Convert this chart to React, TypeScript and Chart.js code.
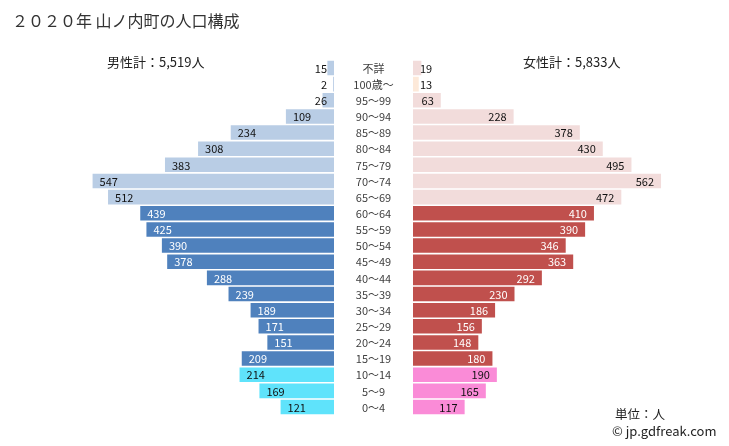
import React, { useEffect, useRef } from "react";
import { Chart, registerables } from "chart.js";

Chart.register(...registerables);

const ageLabels = [
  "不詳", "100歳～", "95～99", "90～94", "85～89", "80～84", "75～79", "70～74", "65～69",
  "60～64", "55～59", "50～54", "45～49", "40～44", "35～39", "30～34", "25～29", "20～24", "15～19",
  "10～14", "5～9", "0～4",
];
const maleValues = [15, 2, 26, 109, 234, 308, 383, 547, 512, 439, 425, 390, 378, 288, 239, 189, 171, 151, 209, 214, 169, 121];
const femaleValues = [19, 13, 63, 228, 378, 430, 495, 562, 472, 410, 390, 346, 363, 292, 230, 186, 156, 148, 180, 190, 165, 117];
const titleText = "２０２０年 山ノ内町の人口構成";
const maleTotalText = "男性計：5,519人";
const femaleTotalText = "女性計：5,833人";
const axisMax = 600;

const FONT = "'Noto Sans CJK JP', 'Noto Sans', sans-serif";

function groupOf(i: number) {
  if (i <= 8) return "old";
  if (i <= 18) return "work";
  return "child";
}
function maleColor(i: number) {
  const g = groupOf(i);
  return g === "old" ? "#B9CDE5" : g === "work" ? "#4F81BD" : "#5FE3FB";
}
function femaleColor(i: number) {
  if (i === 1) return "#FDE9D9";
  const g = groupOf(i);
  return g === "old" ? "#F2DCDB" : g === "work" ? "#C0504D" : "#FA8BD7";
}
function textColor(i: number) {
  return groupOf(i) === "work" ? "#FFFFFF" : "#111111";
}

const maleLabelPlugin = {
  id: "maleLabels",
  afterDatasetsDraw(chart: any) {
    const ctx = chart.ctx;
    const meta = chart.getDatasetMeta(0);
    ctx.save();
    ctx.font = `11px ${FONT}`;
    ctx.textBaseline = "middle";
    ctx.textAlign = "left";
    meta.data.forEach((bar: any, i: number) => {
      const txt = String(maleValues[i]);
      const w = ctx.measureText(txt).width;
      const left = Math.min(bar.x + 7, bar.base - 7 - w);
      const inside = left >= bar.x;
      ctx.fillStyle = inside ? textColor(i) : "#111111";
      ctx.fillText(txt, left, bar.y + 0.5);
    });
    // center age labels
    const yScale = chart.scales.y;
    const cx = chart.chartArea.right + 39.5;
    ctx.font = `11px ${FONT}`;
    ctx.textAlign = "center";
    ctx.fillStyle = "#404040";
    ageLabels.forEach((lab, i) => {
      ctx.fillText(lab, cx, yScale.getPixelForValue(i) + 0.5);
    });
    ctx.restore();
  },
};

const femaleLabelPlugin = {
  id: "femaleLabels",
  afterDatasetsDraw(chart: any) {
    const ctx = chart.ctx;
    const meta = chart.getDatasetMeta(0);
    ctx.save();
    ctx.font = `11px ${FONT}`;
    ctx.textBaseline = "middle";
    ctx.textAlign = "left";
    meta.data.forEach((bar: any, i: number) => {
      const txt = String(femaleValues[i]);
      const w = ctx.measureText(txt).width;
      const left = Math.max(bar.base + 7, bar.x - 7 - w);
      const inside = left + w <= bar.x;
      ctx.fillStyle = inside ? textColor(i) : "#111111";
      ctx.fillText(txt, left, bar.y + 0.5);
    });
    ctx.restore();
  },
};

function makeConfig(values: number[], colorFn: (i: number) => string, reverse: boolean, padding: any, plugin: any): any {
  return {
    type: "bar",
    data: {
      labels: ageLabels,
      datasets: [
        {
          data: values,
          backgroundColor: values.map((_, i) => colorFn(i)),
          borderWidth: 0,
          barPercentage: 0.9,
          categoryPercentage: 1,
        },
      ],
    },
    options: {
      indexAxis: "y",
      responsive: false,
      animation: false,
      devicePixelRatio: 1,
      layout: { padding },
      plugins: { legend: { display: false }, tooltip: { enabled: false } },
      scales: {
        x: { display: false, min: 0, max: axisMax, reverse },
        y: { display: false },
      },
    },
    plugins: [plugin],
  };
}

export default function App() {
  const leftRef = useRef<HTMLCanvasElement>(null);
  const rightRef = useRef<HTMLCanvasElement>(null);

  useEffect(() => {
    const chartTop = 59.9;
    const chartBottom = 446 - 415.1;
    const left = new Chart(
      leftRef.current as HTMLCanvasElement,
      makeConfig(maleValues, maleColor, true, { left: 69.2, right: 79, top: chartTop, bottom: chartBottom }, maleLabelPlugin)
    );
    const right = new Chart(
      rightRef.current as HTMLCanvasElement,
      makeConfig(femaleValues, femaleColor, false, { left: 0, right: 51.2, top: chartTop, bottom: chartBottom }, femaleLabelPlugin)
    );
    return () => {
      left.destroy();
      right.destroy();
    };
  }, []);

  const textBase: React.CSSProperties = {
    position: "absolute",
    fontFamily: FONT,
    color: "#222",
    whiteSpace: "nowrap",
    lineHeight: 1,
  };

  return (
    <div style={{ position: "absolute", left: 0, top: 0, width: 729, height: 446, background: "#fff", overflow: "hidden" }}>
      <canvas ref={leftRef} width={413} height={446} style={{ position: "absolute", left: 0, top: 0, width: 413, height: 446 }} />
      <canvas ref={rightRef} width={316} height={446} style={{ position: "absolute", left: 413, top: 0, width: 316, height: 446 }} />
      <div style={{ ...textBase, left: 12, top: 12, fontSize: 16, color: "#333" }}>{titleText}</div>
      <div style={{ ...textBase, left: 107, top: 55, fontSize: 13 }}>{maleTotalText}</div>
      <div style={{ ...textBase, left: 523, top: 55, fontSize: 13 }}>{femaleTotalText}</div>
      <div style={{ ...textBase, left: 615, top: 408, fontSize: 12.5 }}>単位：人</div>
      <div style={{ ...textBase, left: 612, top: 424, fontSize: 13 }}>© jp.gdfreak.com</div>
    </div>
  );
}
